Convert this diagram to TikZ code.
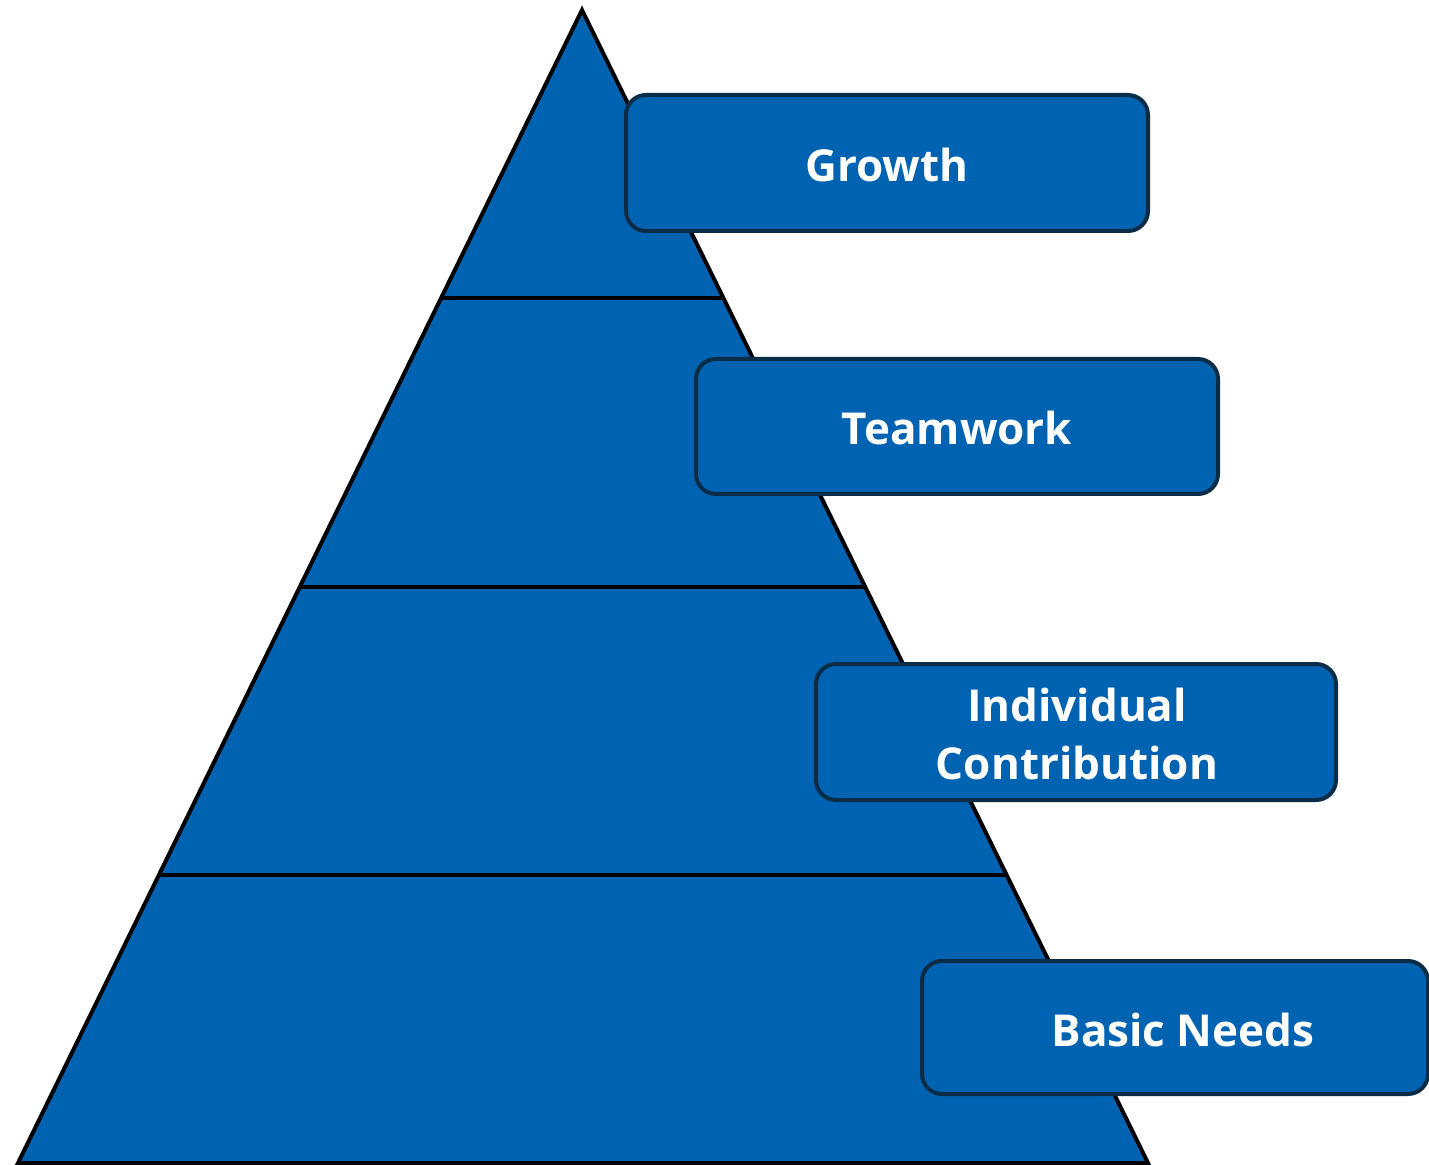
\documentclass[tikz,border=0pt]{standalone}
\usepackage{fontspec}
\setmainfont{Open Sans}
\definecolor{pyr}{HTML}{0063B1}
\definecolor{navy}{HTML}{0B2C47}
\begin{document}
\begin{tikzpicture}[x=0.5pt,y=-0.5pt,
  level/.style={fill=pyr,draw=black,line width=2pt,line join=miter},
  lbl/.style={fill=pyr,draw=navy,line width=2pt,rounded corners=10pt},
  txt/.style={text=white,font=\bfseries\fontsize{22}{29}\selectfont,align=center,inner sep=0pt}]
\useasboundingbox (0,0) rectangle (1429,1165);
% pyramid
\coordinate (apex) at (582,10);
\coordinate (l1) at (441,298); \coordinate (r1) at (723,298);
\coordinate (l2) at (300,587); \coordinate (r2) at (864,587);
\coordinate (l3) at (159,875); \coordinate (r3) at (1006,875);
\coordinate (l4) at (18,1163); \coordinate (r4) at (1148,1163);
\draw[level] (l4) -- (apex) -- (r4) -- cycle;
\draw[line width=2pt] (l1) -- (r1);
\draw[line width=2pt] (l2) -- (r2);
\draw[line width=2pt] (l3) -- (r3);
% labels
\draw[lbl] (626,95) rectangle (1148,231);
\node[txt] (g) at (887,165) {Growth};
\draw[lbl] (696,359) rectangle (1218,494);
\node[txt] (t) at (957,428) {Teamwork};
\draw[lbl] (816,664) rectangle (1336,800);
\node[txt] (i) at (1077,734) {Individual\\Contribution};
\draw[lbl] (922,961) rectangle (1428,1094);
\node[txt] (b) at (1183,1030) {Basic Needs};
\end{tikzpicture}
\end{document}
